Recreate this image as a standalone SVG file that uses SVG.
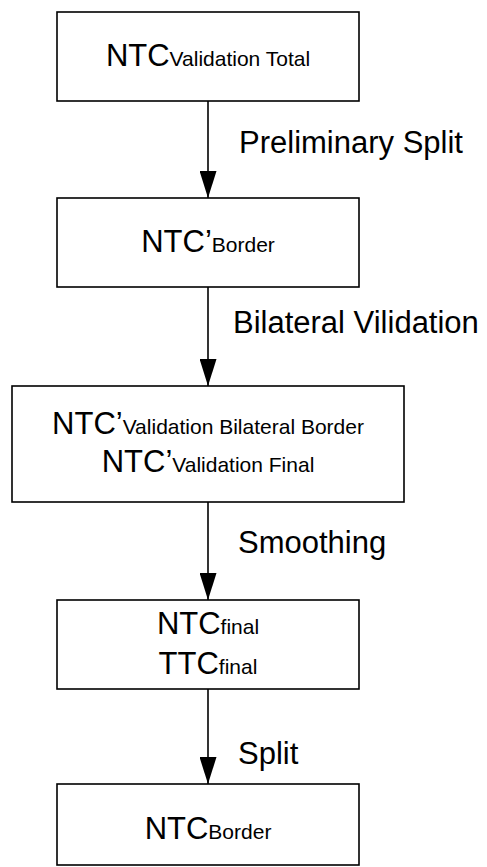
<svg xmlns="http://www.w3.org/2000/svg" width="487" height="867" viewBox="0 0 487 867">
  <style>
    .box { fill: #ffffff; stroke: #000000; stroke-width: 1.6; }
    .lbl { font-family: "Liberation Sans", Arial, sans-serif; font-size: 31px; fill: #000000; }
    .node-text { font-family: "Liberation Sans", Arial, sans-serif; font-size: 31px; fill: #000000; text-anchor: middle; }
    .sub { font-size: 21px; }
    .edge { stroke: #000000; stroke-width: 1.6; fill: none; marker-end: url(#arrow); }
  </style>
  <defs>
    <marker id="arrow" markerUnits="userSpaceOnUse" markerWidth="27" markerHeight="17" refX="27" refY="8.5" orient="auto">
      <path d="M0,0 L27,8.5 L0,17 z" fill="#000000"/>
    </marker>
  </defs>
  <rect width="487" height="867" fill="#ffffff"/>

  <g id="connectors">
    <line class="edge" x1="208" y1="101" x2="208" y2="198"/>
    <line class="edge" x1="208" y1="287" x2="208" y2="386"/>
    <line class="edge" x1="208" y1="502" x2="208" y2="600"/>
    <line class="edge" x1="208" y1="689" x2="208" y2="784"/>
    <text class="lbl" x="239" y="153">Preliminary Split</text>
    <text class="lbl" x="233" y="333">Bilateral Vilidation</text>
    <text class="lbl" x="238" y="553">Smoothing</text>
    <text class="lbl" x="238" y="764">Split</text>
  </g>

  <g id="ntc-validation-total">
    <rect class="box" x="57" y="12" width="302" height="89"/>
    <text class="node-text" x="208" y="66">NTC<tspan class="sub">Validation Total</tspan></text>
  </g>

  <g id="ntc-border-preliminary">
    <rect class="box" x="57" y="198" width="302" height="89"/>
    <text class="node-text" x="208" y="252">NTC’<tspan class="sub">Border</tspan></text>
  </g>

  <g id="ntc-validation-bilateral">
    <rect class="box" x="12" y="386" width="392" height="116"/>
    <text class="node-text" x="208" y="434">NTC’<tspan class="sub">Validation Bilateral Border</tspan></text>
    <text class="node-text" x="208" y="472">NTC’<tspan class="sub">Validation Final</tspan></text>
  </g>

  <g id="final-values">
    <rect class="box" x="57" y="600" width="302" height="89"/>
    <text class="node-text" x="208" y="634">NTC<tspan class="sub">final</tspan></text>
    <text class="node-text" x="208" y="674">TTC<tspan class="sub">final</tspan></text>
  </g>

  <g id="ntc-border">
    <rect class="box" x="57" y="784" width="302" height="81"/>
    <text class="node-text" x="208" y="839">NTC<tspan class="sub">Border</tspan></text>
  </g>
</svg>
